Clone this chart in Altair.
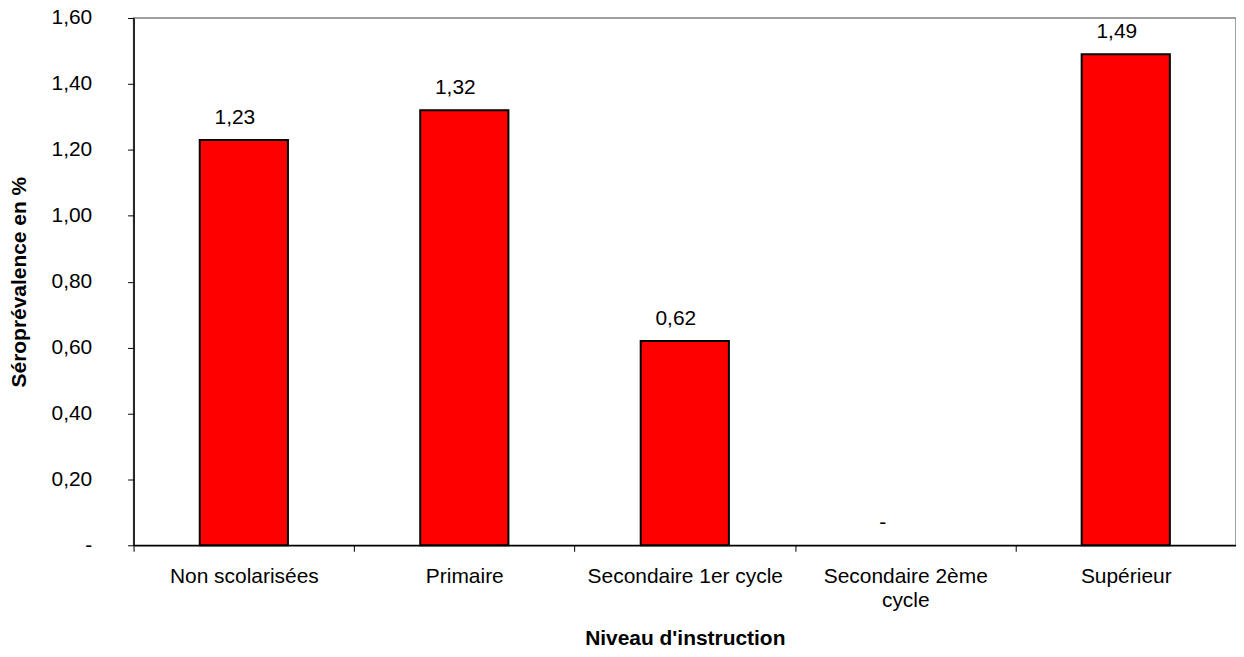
import altair as alt
import pandas as pd

categories = ["Non scolarisées", "Primaire", "Secondaire 1er cycle",
              "Secondaire 2ème cycle", "Supérieur"]
values = [1.23, 1.32, 0.62, 0.0, 1.49]
y_ticks = [0, 0.2, 0.4, 0.6, 0.8, 1.0, 1.2, 1.4, 1.6]

df = pd.DataFrame({"cat": categories, "value": values})

NB = "\u00a0"
FONT = "Liberation Sans"
FS = 21

x_enc = alt.X(
    "cat:N",
    sort=categories,
    scale=alt.Scale(paddingInner=0, paddingOuter=0),
    axis=alt.Axis(
        title="Niveau d'instruction",
        labelAngle=0,
        tickBand="extent",
        tickSize=6,
        labelPadding=14,
        labelLimit=0,
        labelLineHeight=24,
        labelExpr="datum.label == 'Secondaire 2ème cycle' ? ['Secondaire 2ème', 'cycle'] : datum.label",
        titleY=100,
        titleBaseline="alphabetic",
    ),
)
y_enc = alt.Y(
    "value:Q",
    scale=alt.Scale(domain=[0, 1.6], nice=False),
    axis=alt.Axis(
        title="Séroprévalence en %",
        values=y_ticks,
        grid=False,
        tickSize=6,
        labelPadding=36,
        labelExpr="datum.value == 0 ? '-" + NB * 4 + "' : replace(format(datum.value, '.2f'), '.', ',')",
        titleX=-114,
        titleY=264.5,
        titleAlign="center",
        titleBaseline="middle",
    ),
)

base = alt.Chart(df).transform_calculate(
    lbl="replace(format(datum.value, '.2f'), '.', ',')"
)

bars = base.transform_filter("datum.value > 0").mark_bar(
    fill="#FF0000", stroke="black", strokeWidth=2, width=alt.RelativeBandSize(0.4)
).encode(x=x_enc, y=y_enc)

labels = base.transform_filter("datum.value > 0").mark_text(
    dx=-9, dy=-16, baseline="alphabetic", fontSize=FS, font=FONT, color="black"
).encode(x=x_enc, y=y_enc, text="lbl:N")

zero_labels = base.transform_filter("datum.value == 0").mark_text(
    text="-", dx=-22.5, dy=-16, baseline="alphabetic", fontSize=FS, font=FONT, color="black"
).encode(x=x_enc, y=y_enc)

chart = alt.layer(bars, labels, zero_labels).properties(
    width=1106,
    height=529,
    autosize=alt.AutoSizeParams(type="none"),
    padding={"left": 126, "top": 9, "right": 0, "bottom": 103},
).configure_view(
    stroke="#808080", strokeWidth=1.5
).configure_axis(
    domainColor="black",
    domainWidth=1.5,
    tickColor="black",
    tickWidth=1,
    labelColor="black",
    labelFont=FONT,
    labelFontSize=FS,
    titleFont=FONT,
    titleFontSize=FS,
    titleFontWeight="bold",
    titleColor="black",
)

chart.save("out.html", embed_options={"renderer": "svg", "actions": False})
